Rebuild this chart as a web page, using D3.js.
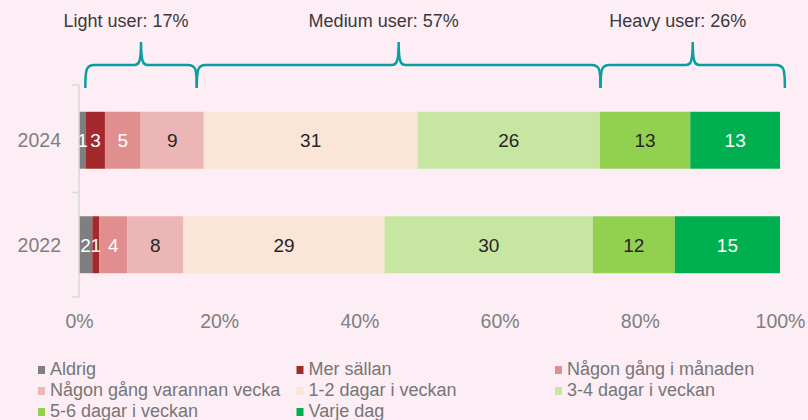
<!DOCTYPE html>
<html>
  <head>
    <meta charset="utf-8">
    <title>Usage frequency</title>
    <script src="https://d3js.org/d3.v7.min.js"></script>
    <style>
      body { margin: 0; background: #fdedf5; font-family: "Liberation Sans", Arial, sans-serif; }
      svg { display: block; }
    </style>
  </head>
  <body>
    <div id="chart"></div>
    <script>
      // data
      var years = ["2024", "2022"];
      var categories = ["Aldrig", "Mer sällan", "Någon gång i månaden", "Någon gång varannan vecka",
        "1-2 dagar i veckan", "3-4 dagar i veckan", "5-6 dagar i veckan", "Varje dag"];
      var values2024 = [1.0, 2.7, 5.1, 9.0, 30.5, 26.0, 12.9, 12.8];
      var values2022 = [1.9, 1.0, 4.0, 8.0, 28.7, 29.7, 11.7, 15.0];
      var labels2024 = [1, 3, 5, 9, 31, 26, 13, 13];
      var labels2022 = [2, 1, 4, 8, 29, 30, 12, 15];
      var xTicks = [0, 20, 40, 60, 80, 100];
      var groupNames = ["Light user: 17%", "Medium user: 57%", "Heavy user: 26%"];
      var groupFrom = [0.9, 16.8, 74.4];
      var groupTo = [16.8, 74.4, 100.7];

      var colors = ["#7f7f7f", "#a3292d", "#e08e8e", "#ecb6b6", "#fbe5d6", "#c6e6a2", "#92d050", "#00b050"];
      var whiteText = [true, true, true, false, false, false, false, true];

      var width = 808, height = 420;
      var svg = d3.select("#chart").append("svg")
        .attr("width", width)
        .attr("height", height)
        .style("font-family", "'Liberation Sans', Arial, sans-serif");

      // scales
      var x = d3.scaleLinear().domain([0, 100]).range([79, 780]);
      var y = d3.scaleBand().domain(years).range([88, 297])
        .paddingInner(0.455).paddingOuter(0.2275);

      // stack rows
      var rows = [values2024, values2022].map(function(vals, i) {
        var acc = 0;
        var lab = i === 0 ? labels2024 : labels2022;
        return vals.map(function(v, j) {
          var seg = { year: years[i], x0: acc, x1: acc + v, label: lab[j], idx: j };
          acc += v;
          return seg;
        });
      });

      var bars = svg.append("g");
      rows.forEach(function(row) {
        var g = bars.append("g");
        g.selectAll("rect")
          .data(row)
          .enter().append("rect")
            .attr("x", function(d) { return x(d.x0); })
            .attr("y", function(d) { return y(d.year); })
            .attr("width", function(d) { return x(d.x1) - x(d.x0); })
            .attr("height", y.bandwidth())
            .attr("fill", function(d) { return colors[d.idx]; });
        g.selectAll("text")
          .data(row)
          .enter().append("text")
            .attr("x", function(d) { return (x(d.x0) + x(d.x1)) / 2; })
            .attr("y", function(d) { return y(d.year) + y.bandwidth() / 2; })
            .attr("dy", "0.36em")
            .attr("text-anchor", "middle")
            .style("font-size", "19px")
            .attr("fill", function(d) { return whiteText[d.idx] ? "#ffffff" : "#262626"; })
            .text(function(d) { return d.label; });
      });

      // y axis
      var yAxis = svg.append("g");
      yAxis.append("line")
        .attr("x1", x(0)).attr("x2", x(0))
        .attr("y1", y.range()[0] - 3).attr("y2", y.range()[1])
        .attr("stroke", "#d9d9d9").attr("stroke-width", 1.5);
      var bounds = [y.range()[0] - 3, (y("2024") + y("2022") + y.bandwidth()) / 2, y.range()[1]];
      yAxis.selectAll(".tick")
        .data(bounds)
        .enter().append("line")
          .attr("x1", x(0) - 7).attr("x2", x(0))
          .attr("y1", function(d) { return d; }).attr("y2", function(d) { return d; })
          .attr("stroke", "#d9d9d9").attr("stroke-width", 1.5);
      yAxis.selectAll("text")
        .data(years)
        .enter().append("text")
          .attr("x", x(0) - 18)
          .attr("y", function(d) { return y(d) + y.bandwidth() / 2; })
          .attr("dy", "0.36em")
          .attr("text-anchor", "end")
          .style("font-size", "19.5px")
          .attr("fill", "#7f7f7f")
          .text(function(d) { return d; });

      // x axis labels
      var xAxis = svg.append("g")
        .attr("transform", "translate(0,328)")
        .call(d3.axisBottom(x).tickValues(xTicks).tickSize(0).tickPadding(0)
          .tickFormat(function(d) { return d + "%"; }));
      xAxis.select(".domain").remove();
      xAxis.selectAll("text")
        .attr("dy", 0)
        .attr("y", 0)
        .attr("fill", "#7f7f7f")
        .style("font-size", "19.5px")
        .style("font-family", "'Liberation Sans', Arial, sans-serif");

      // braces
      function brace(x1, x2, yEnd, yMid, yTip) {
        var xm = (x1 + x2) / 2, r = 9, t = 7;
        return "M" + x1 + "," + yEnd +
          "C" + x1 + "," + (yMid + 4) + " " + (x1 + 1) + "," + yMid + " " + (x1 + r) + "," + yMid +
          "L" + (xm - t) + "," + yMid +
          "C" + (xm - 2) + "," + yMid + " " + xm + "," + (yMid - 3) + " " + xm + "," + yTip +
          "C" + xm + "," + (yMid - 3) + " " + (xm + 2) + "," + yMid + " " + (xm + t) + "," + yMid +
          "L" + (x2 - r) + "," + yMid +
          "C" + (x2 - 1) + "," + yMid + " " + x2 + "," + (yMid + 4) + " " + x2 + "," + yEnd;
      }
      var braces = svg.append("g");
      groupNames.forEach(function(name, i) {
        var a = x(groupFrom[i]), b = x(groupTo[i]);
        braces.append("path")
          .attr("d", brace(a, b, 88, 65, 42))
          .attr("fill", "none")
          .attr("stroke", "#0a9e9e")
          .attr("stroke-width", 2.5);
        braces.append("text")
          .attr("x", (a + b) / 2 - 15)
          .attr("y", 27)
          .attr("text-anchor", "middle")
          .style("font-size", "18px")
          .attr("fill", "#3a3a3a")
          .text(name);
      });

      // legend
      var legend = svg.append("g");
      var items = legend.selectAll("g")
        .data(categories)
        .enter().append("g")
          .attr("transform", function(d, i) {
            return "translate(" + (38 + (i % 3) * 258.5) + "," + (375 + Math.floor(i / 3) * 21) + ")";
          });
      items.append("rect")
        .attr("x", 0).attr("y", -9)
        .attr("width", 7).attr("height", 8)
        .attr("fill", function(d, i) { return colors[i]; });
      items.append("text")
        .attr("x", 12).attr("y", 0)
        .style("font-size", "18px")
        .attr("fill", "#767676")
        .text(function(d) { return d; });
    </script>
  </body>
</html>
